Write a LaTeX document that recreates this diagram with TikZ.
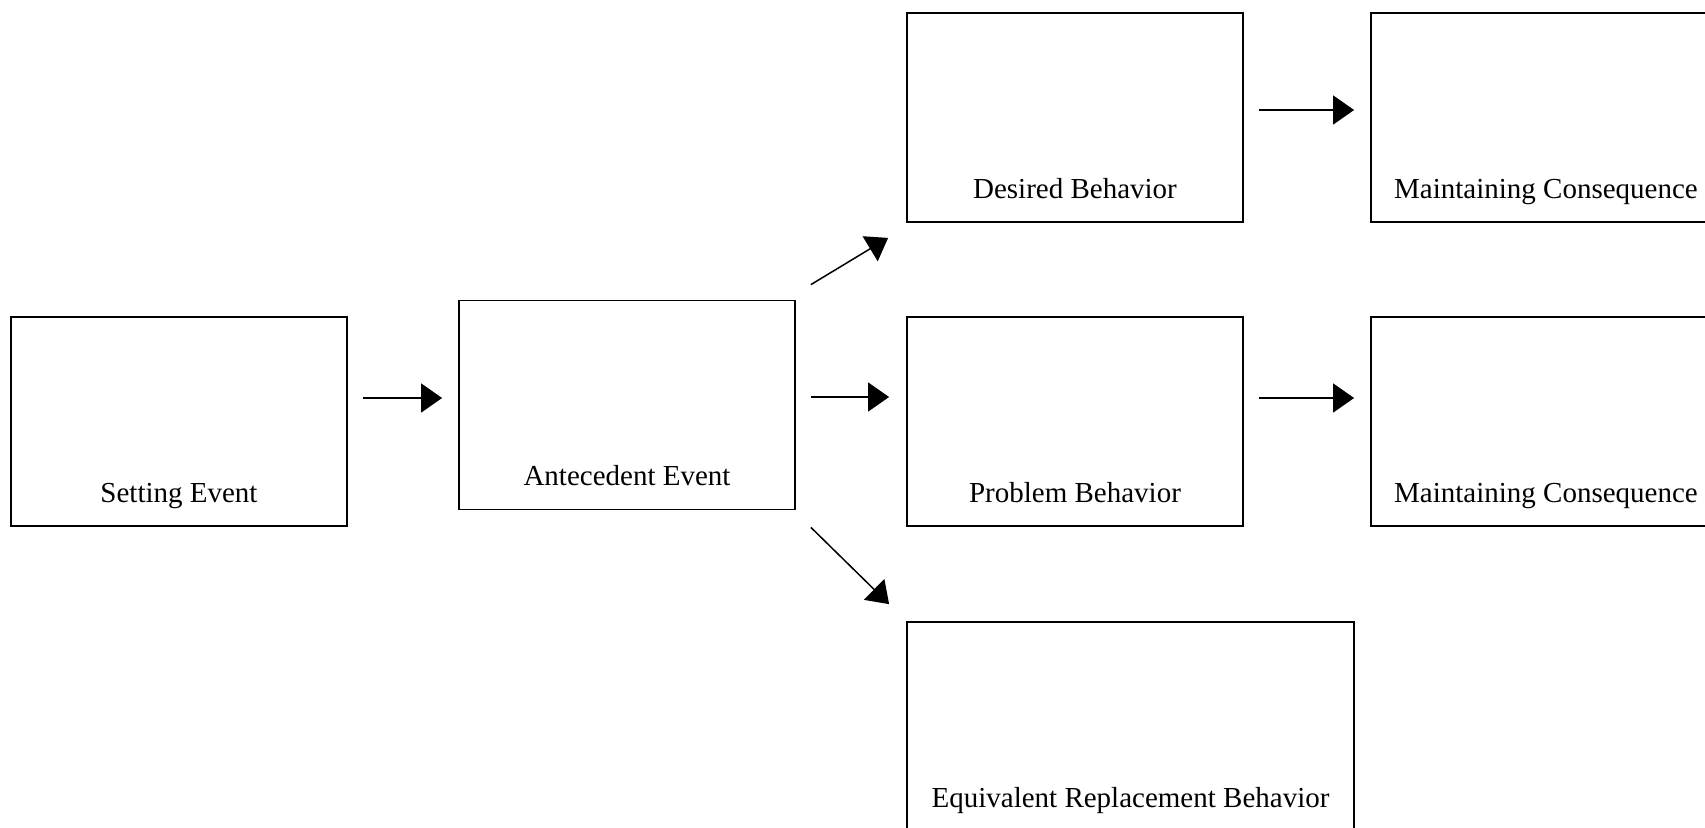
\documentclass[tikz,border=0pt]{standalone}
\usepackage{fontspec}
\setmainfont{Liberation Serif}
\usetikzlibrary{arrows.meta}
\begin{document}
\begin{tikzpicture}[x=0.5pt,y=-0.5pt,
  box/.style={draw=black,line width=0.9pt,rectangle,minimum width=168pt,minimum height=104.5pt,inner sep=0pt,fill=white},
  every label/.style={font=\fontsize{14.5}{17}\selectfont,inner sep=0pt,anchor=base,yshift=15.5pt},
  arr/.style={line width=0.75pt,-{Triangle[length=10.5pt,width=14.5pt]}}]
\useasboundingbox (0,0) rectangle (1705,827);
\clip (0,0) rectangle (1705,827);
\node[box] (se) at (179,421.5) {};
\node[box] (ae) at (627,405) {};
\node[box] (db) at (1075,117.5) {};
\node[box,minimum width=175pt] (mc1) at (1546,117.5) {};
\node[box] (pb) at (1075,421.5) {};
\node[box,minimum width=175pt] (mc2) at (1546,421.5) {};
\node[box,minimum width=223.5pt] (erb) at (1130.5,726.5) {};
\path (se.south) node[label={south:Setting Event}] {};
\node[label={[yshift=0.5pt]south:Antecedent Event}] at (ae.south) {};
\node[label={south:Desired Behavior}] at (db.south) {};
\node[label={south:Maintaining Consequence}] at (mc1.south) {};
\node[label={south:Problem Behavior}] at (pb.south) {};
\node[label={south:Maintaining Consequence}] at (mc2.south) {};
\node[label={south:Equivalent Replacement Behavior}] at (erb.south) {};
\draw[arr] ([shift={(15,-23.5)}]se.east) -- ([shift={(-16,-7)}]ae.west);
\draw[arr] ([shift={(15,-8)}]ae.east) -- ([shift={(-17,-24.5)}]pb.west);
\draw[arr] ([shift={(15,-15)}]ae.north east) -- ([shift={(-18,15)}]db.south west);
\draw[arr] ([shift={(15,17)}]ae.south east) -- ([shift={(-17,-17)}]erb.north west);
\draw[arr] ([shift={(15,-7.5)}]db.east) -- ([shift={(-16,-7.5)}]mc1.west);
\draw[arr] ([shift={(15,-23.5)}]pb.east) -- ([shift={(-16,-23.5)}]mc2.west);
\end{tikzpicture}
\end{document}
